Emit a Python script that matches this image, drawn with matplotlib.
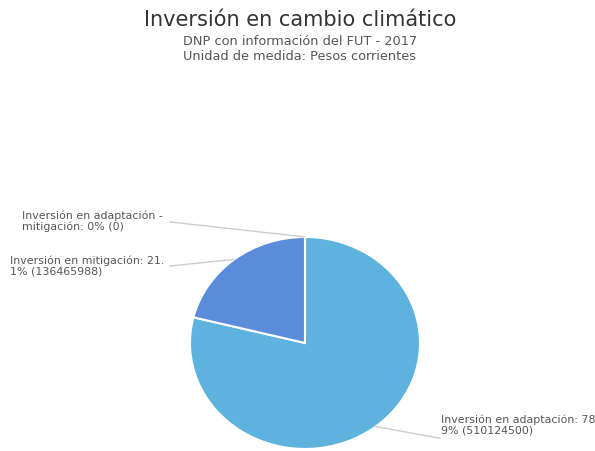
import matplotlib
matplotlib.use("Agg")
import matplotlib.pyplot as plt
import numpy as np

# ---- data ----
categories = ["Inversión en adaptación", "Inversión en mitigación",
              "Inversión en adaptación - mitigación"]
values = [510124500, 136465988, 0]
label_texts = [
    "Inversión en adaptación: 78.\n9% (510124500)",
    "Inversión en mitigación: 21.\n1% (136465988)",
    "Inversión en adaptación -\nmitigación: 0% (0)",
]
colors = ["#5eb3de", "#5b8bdb", "#7fd0a0"]

plt.rcParams["font.family"] = ["DejaVu Sans"]

fig = plt.figure(figsize=(5.95, 4.51), dpi=100)
fig.patch.set_facecolor("white")

fig.text(0.504, 0.955, "Inversión en cambio climático", ha="center", va="center",
         fontsize=15, color="#333333")
fig.text(0.504, 0.908, "DNP con información del FUT - 2017", ha="center", va="center",
         fontsize=9.3, color="#555555")
fig.text(0.504, 0.874, "Unidad de medida: Pesos corrientes", ha="center", va="center",
         fontsize=9.3, color="#555555")

# pie is slightly stretched horizontally in the reference
ax = fig.add_axes([0.3193, 0.0045, 0.3866, 0.4701])
wedges, _ = ax.pie(values, colors=colors, startangle=90, counterclock=False,
                   wedgeprops=dict(edgecolor="white", linewidth=1.5))
ax.set_aspect("auto")
ax.set_xlim(-1, 1)
ax.set_ylim(-1, 1)
ax.axis("off")

# label positions in figure fraction (text anchor) and leader line start
text_pos = [(0.742, 0.058), (0.017, 0.410), (0.037, 0.510)]
line_start = [(0.740, 0.028), (0.285, 0.410), (0.285, 0.508)]

for w, txt, tp, ls in zip(wedges, label_texts, text_pos, line_start):
    mid = np.deg2rad((w.theta1 + w.theta2) / 2)
    anchor = (np.cos(mid), np.sin(mid))
    ax.annotate("", xy=anchor, xycoords="data",
                xytext=ls, textcoords="figure fraction",
                arrowprops=dict(arrowstyle="-", color="#cccccc", lw=1.0,
                                shrinkA=0, shrinkB=0),
                annotation_clip=False)
    fig.text(tp[0], tp[1], txt, ha="left", va="center", fontsize=7.9,
             color="#555555", linespacing=1.1)

fig.savefig("out.png", dpi=100)
